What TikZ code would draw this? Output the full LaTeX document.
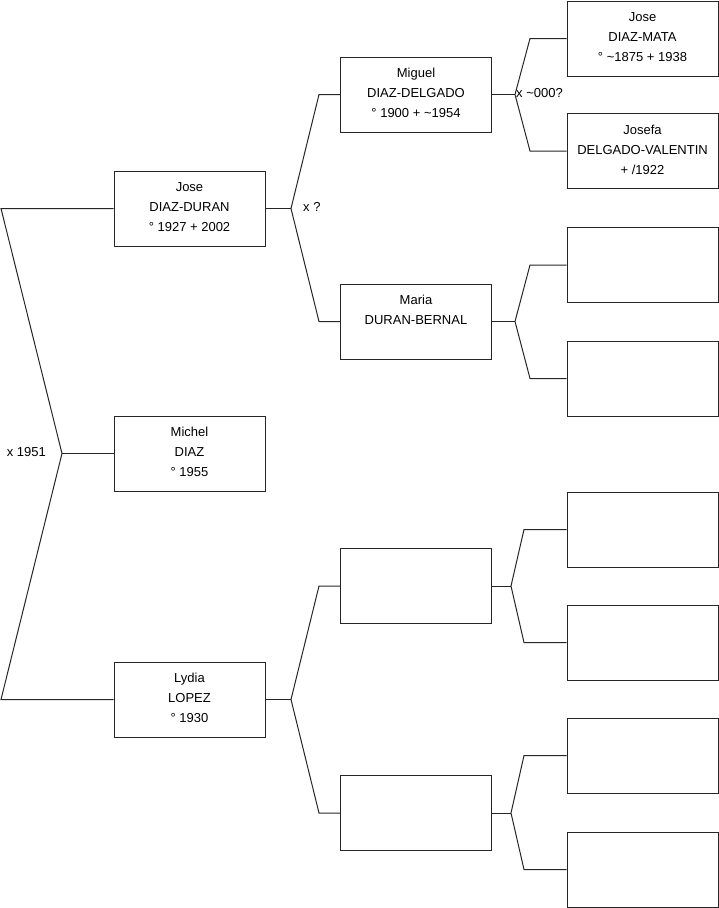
\documentclass[tikz,border=0pt]{standalone}
\usepackage{fontspec}
\setmainfont{Liberation Sans}
\newcommand{\pcard}[1]{\parbox[c][75pt][t]{151pt}{\centering\rule{0pt}{20.5pt}#1}}
\begin{document}
\begin{tikzpicture}[x=1pt,y=-1pt,
  every node/.style={font=\fontsize{13}{20}\selectfont, inner sep=0pt},
  person/.style={draw=black!85, line width=1pt, fill=white},
  link/.style={draw=black!85, line width=1pt, line join=miter}]
\useasboundingbox (0,0) rectangle (719,908);

% generation 1
\node[person] (p1) at (189.5,208.5) {\pcard{Jose\\DIAZ-DURAN\\° 1927 + 2002}};
\node[person] (p2) at (189.5,453.5) {\pcard{Michel\\DIAZ\\° 1955}};
\node[person] (p3) at (189.5,699.5) {\pcard{Lydia\\LOPEZ\\° 1930}};

% generation 2
\node[person] (q1) at (416,94.5) {\pcard{Miguel\\DIAZ-DELGADO\\° 1900 + \textasciitilde1954}};
\node[person] (q2) at (416,321.5) {\pcard{Maria\\DURAN-BERNAL}};
\node[person] (q3) at (416,586) {\pcard{}};
\node[person] (q4) at (416,813) {\pcard{}};

% generation 3
\node[person] (s1) at (642.5,38.5) {\pcard{Jose\\DIAZ-MATA\\° \textasciitilde1875 + 1938}};
\node[person] (s2) at (642.5,151) {\pcard{Josefa\\DELGADO-VALENTIN\\+ /1922}};
\node[person] (s3) at (642.5,265) {\pcard{}};
\node[person] (s4) at (642.5,378.5) {\pcard{}};
\node[person] (s5) at (642.5,529.5) {\pcard{}};
\node[person] (s6) at (642.5,642.5) {\pcard{}};
\node[person] (s7) at (642.5,755.5) {\pcard{}};
\node[person] (s8) at (642.5,869.5) {\pcard{}};

% root fork
\coordinate (r1) at (1,208.5);
\coordinate (r2) at (62,453.5);
\coordinate (r3) at (1,699.5);
\draw[link] (p1.west) -- (r1) -- (r2) -- (r3) -- (p3.west);
\draw[link] (r2) -- (p2.west);
\node[anchor=east] (m0) at (46,452.5) {x 1951};

% Jose's parents
\coordinate (j1) at (291,208.5);
\coordinate (j1a) at (319,94.5);
\coordinate (j1b) at (319,321.5);
\draw[link] (p1.east) -- (j1);
\draw[link] (q1.west) -- (j1a) -- (j1) -- (j1b) -- (q2.west);
\node[anchor=west] (mj) at (303,207) {x ?};

% Lydia's parents
\coordinate (l1) at (291,699.5);
\coordinate (l1a) at (319,586);
\coordinate (l1b) at (319,813);
\draw[link] (p3.east) -- (l1);
\draw[link] (q3.west) -- (l1a) -- (l1) -- (l1b) -- (q4.west);

% Miguel's parents
\coordinate (k1) at (515,94.5);
\coordinate (k1a) at (530,38.5);
\coordinate (k1b) at (530,151);
\draw[link] (q1.east) -- (k1);
\draw[link] (s1.west) -- (k1a) -- (k1) -- (k1b) -- (s2.west);
\node[anchor=west] (mm) at (516,92.7) {x \textasciitilde000?};

% Maria's parents
\coordinate (k2) at (515,321.5);
\coordinate (k2a) at (530,265);
\coordinate (k2b) at (530,378.5);
\draw[link] (q2.east) -- (k2);
\draw[link] (s3.west) -- (k2a) -- (k2) -- (k2b) -- (s4.west);

% q3's parents
\coordinate (k3) at (511,586);
\coordinate (k3a) at (524,529.5);
\coordinate (k3b) at (524,642.5);
\draw[link] (q3.east) -- (k3);
\draw[link] (s5.west) -- (k3a) -- (k3) -- (k3b) -- (s6.west);

% q4's parents
\coordinate (k4) at (511,813);
\coordinate (k4a) at (524,755.5);
\coordinate (k4b) at (524,869.5);
\draw[link] (q4.east) -- (k4);
\draw[link] (s7.west) -- (k4a) -- (k4) -- (k4b) -- (s8.west);
\end{tikzpicture}
\end{document}
